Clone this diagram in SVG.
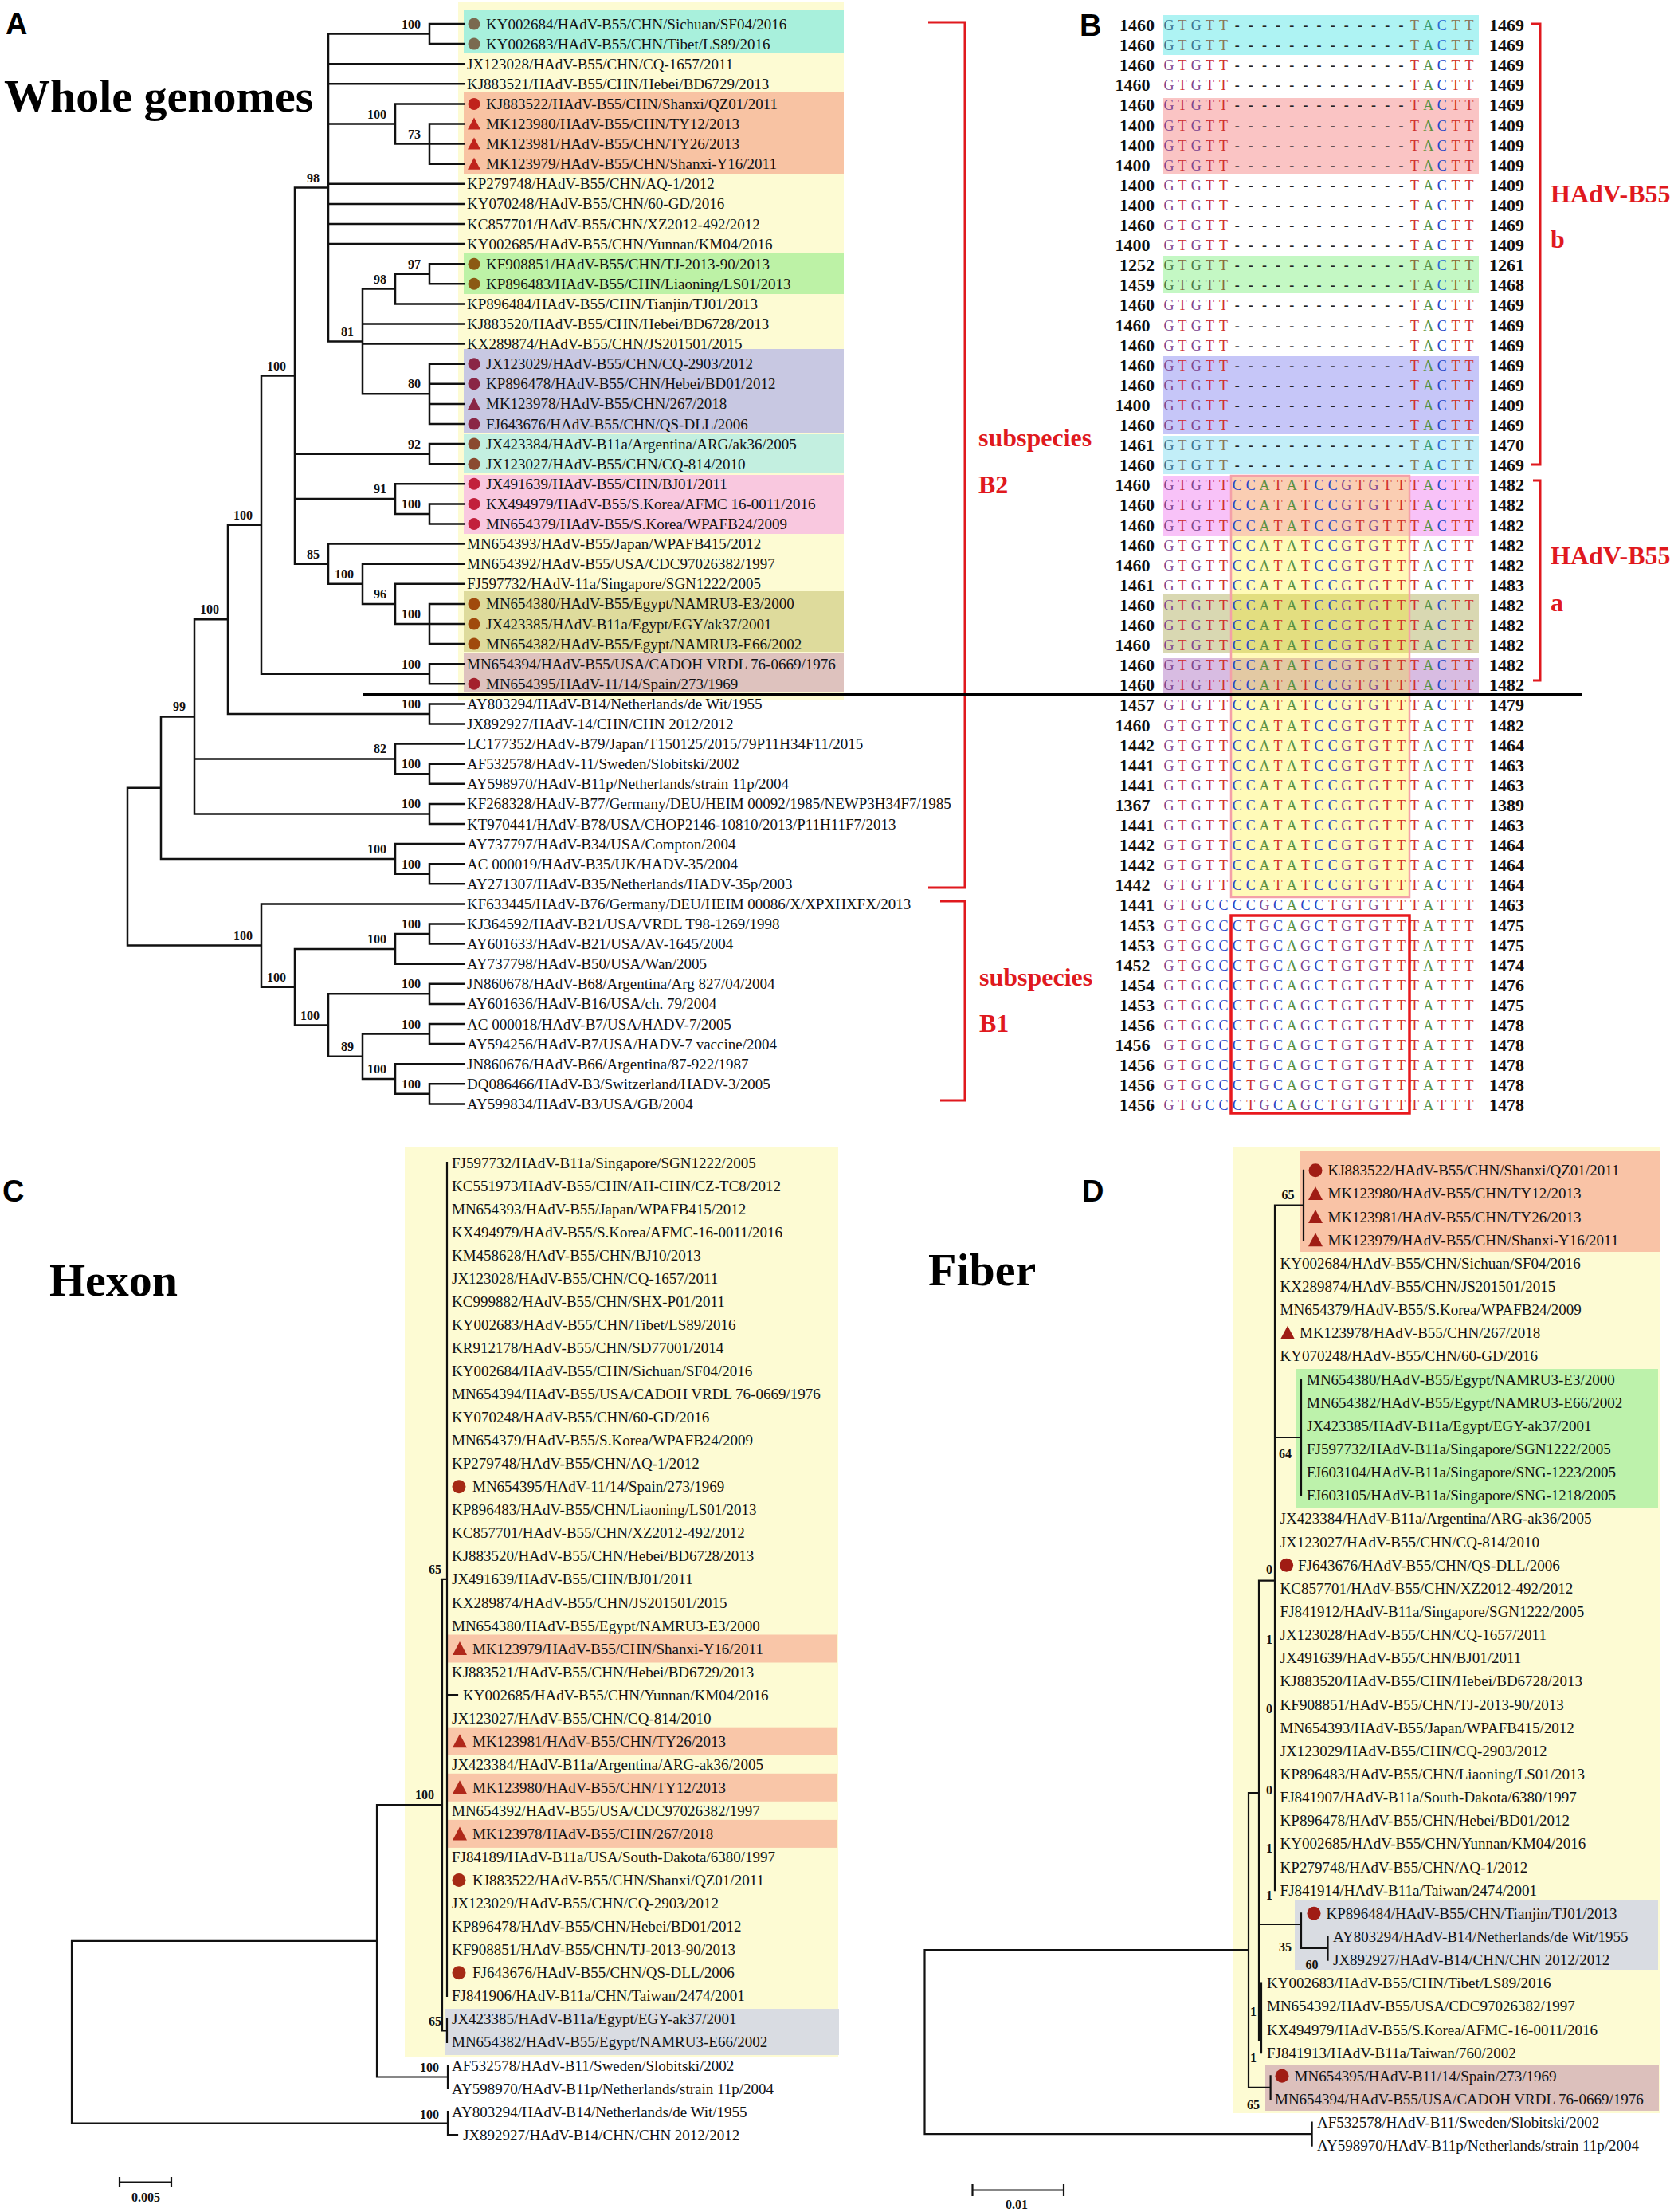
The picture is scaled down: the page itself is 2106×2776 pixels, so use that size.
<svg xmlns="http://www.w3.org/2000/svg" xmlns:xlink="http://www.w3.org/1999/xlink" width="2106" height="2776" viewBox="0 0 2106 2776">
<style>
.lb{font-family:"Liberation Serif","Times New Roman",serif;font-size:19px;fill:#111}
.bs{font-family:"Liberation Serif","Times New Roman",serif;font-size:16px;font-weight:bold;fill:#111}
.bsm{font-family:"Liberation Serif","Times New Roman",serif;font-size:16px;font-weight:bold;fill:#111;text-anchor:middle}
.tr{fill:none;stroke:#111;stroke-width:2.5;stroke-linecap:square}
.trc{fill:none;stroke:#111;stroke-width:2.2;stroke-linecap:square}
.rd{font-family:"Liberation Serif","Times New Roman",serif;font-size:32px;font-weight:bold;fill:#e0191e}
.br{fill:none;stroke:#e0191e;stroke-width:3}
.pl{font-family:"Liberation Sans",Arial,sans-serif;font-size:38px;font-weight:bold;fill:#000}
.ttl{font-family:"Liberation Serif","Times New Roman",serif;font-size:58px;font-weight:bold;fill:#000}
.num{font-family:"Liberation Serif","Times New Roman",serif;font-size:22px;font-weight:bold;fill:#111}
.sq{font-family:"Liberation Serif","Times New Roman",serif;font-size:18px;text-anchor:middle}
.G{fill:#7e4690}.T{fill:#d0302c}.C{fill:#2646c8}.A{fill:#5a9040}.dh{fill:#222;font-weight:bold}
.Gc{fill:#3b7593}.Tc{fill:#8a7658}.Ac{fill:#3c9a6a}.Cc{fill:#2b6ad4}
.Gg{fill:#4a7a4a}.Tg{fill:#8a6a3a}
.yb{fill:#fdfbd3}
</style>
<defs>
<g id="sD">
<text class="sq G" x="1467 1501.3">GG</text>
<text class="sq T" x="1484.1 1518.4 1535.6 1775.5 1826.9 1844.1">TTTTTT</text>
<text class="sq A" x="1792.7">A</text>
<text class="sq C" x="1809.8">C</text>
<text class="sq dh" x="1552.7 1569.8 1587 1604.1 1621.3 1638.4 1655.5 1672.7 1689.8 1707 1724.1 1741.2 1758.4">-------------</text>
</g>
<g id="sDc">
<text class="sq Gc" x="1467 1501.3">GG</text>
<text class="sq Tc" x="1484.1 1518.4 1535.6 1775.5 1826.9 1844.1">TTTTTT</text>
<text class="sq Ac" x="1792.7">A</text>
<text class="sq Cc" x="1809.8">C</text>
<text class="sq dh" x="1552.7 1569.8 1587 1604.1 1621.3 1638.4 1655.5 1672.7 1689.8 1707 1724.1 1741.2 1758.4">-------------</text>
</g>
<g id="sDg">
<text class="sq Gg" x="1467 1501.3">GG</text>
<text class="sq Tg" x="1484.1 1518.4 1535.6 1775.5 1826.9 1844.1">TTTTTT</text>
<text class="sq A" x="1792.7">A</text>
<text class="sq Cc" x="1809.8">C</text>
<text class="sq dh" x="1552.7 1569.8 1587 1604.1 1621.3 1638.4 1655.5 1672.7 1689.8 1707 1724.1 1741.2 1758.4">-------------</text>
</g>
<g id="sL">
<text class="sq G" x="1467 1501.3 1689.8 1724.1">GGGG</text>
<text class="sq T" x="1484.1 1518.4 1535.6 1604.1 1638.4 1707 1741.2 1758.4 1775.5 1826.9 1844.1">TTTTTTTTTTT</text>
<text class="sq C" x="1552.7 1569.8 1655.5 1672.7 1809.8">CCCCC</text>
<text class="sq A" x="1587 1621.3 1792.7">AAA</text>
</g>
<g id="sK">
<text class="sq G" x="1467 1501.3 1587 1689.8 1724.1">GGGGG</text>
<text class="sq T" x="1484.1 1672.7 1707 1741.2 1758.4 1775.5 1809.8 1826.9 1844.1">TTTTTTTTT</text>
<text class="sq C" x="1518.4 1535.6 1552.7 1569.8 1604.1 1638.4 1655.5">CCCCCCC</text>
<text class="sq A" x="1621.3 1792.7">AA</text>
</g>
<g id="sM">
<text class="sq G" x="1467 1501.3 1587 1638.4 1689.8 1724.1">GGGGGG</text>
<text class="sq T" x="1484.1 1569.8 1672.7 1707 1741.2 1758.4 1775.5 1809.8 1826.9 1844.1">TTTTTTTTTT</text>
<text class="sq C" x="1518.4 1535.6 1552.7 1604.1 1655.5">CCCCC</text>
<text class="sq A" x="1621.3 1792.7">AA</text>
</g>
</defs>
<rect width="2106" height="2776" fill="#fff"/>

<!-- ================= PANEL A ================= -->
<g id="panelA">
<text class="pl" x="7" y="43">A</text>
<text class="ttl" x="5" y="140">Whole genomes</text>
<g id="A-boxes">
<rect class="yb" x="575" y="3" width="484" height="875"/>
<rect x="582" y="12" width="477" height="55" fill="#a8f0dc"/>
<rect x="582" y="116" width="477" height="102" fill="#f8c3a3"/>
<rect x="582" y="317" width="477" height="52" fill="#bdf2a6"/>
<rect x="582" y="438" width="477" height="106" fill="#c8c8e2"/>
<rect x="582" y="545" width="477" height="49" fill="#c3efe0"/>
<rect x="582" y="596" width="477" height="74" fill="#f9c8df"/>
<rect x="582" y="742" width="477" height="76" fill="#dedb9c"/>
<rect x="582" y="819" width="477" height="50" fill="#dec2be"/>
</g>
<g id="A-connectors">
<path class="tr" d="M539,30V55.1M539,30H582M539,55.1H582M412,42.55H539M412,80.2H582M412,105.3H582
M496,130.4V180.6M496,130.4H582M412,155.5H496M539,155.5V205.7M539,155.5H582M539,180.6H582M539,205.7H582M496,180.6H539
M412,230.8H582M412,255.9H582M412,281H582M412,306.1H582
M539,331.2V356.3M539,331.2H582M539,356.3H582M496,343.75H539M496,343.75V381.4M496,381.4H582M455,362.6H496
M455,406.5H582M455,431.6H582
M539,456.7V532M539,456.7H582M539,481.8H582M539,506.9H582M539,532H582M455,494.35H539
M455,362.6V494.35M412,428.5H455M412,42.55V428.5M370,235.5H412
M539,557.1V582.2M539,557.1H582M539,582.2H582M370,569.65H539
M539,632.4V657.5M539,632.4H582M539,657.5H582M496,644.95H539M496,607.3V644.95M496,607.3H582M370,626.1H496
M539,757.9V808.1M539,757.9H582M539,783H582M539,808.1H582M496,783H539M496,732.8V783M496,732.8H582M455,757.9H496M455,707.7V757.9M455,707.7H582M412,732.8H455M412,682.6V732.8M412,682.6H582M370,707.7H412
M370,235.5V707.7M328,471.6H370
M539,833.2V858.3M539,833.2H582M539,858.3H582M328,845.75H539M328,471.6V845.75M286,658.7H328
M539,883.4V908.5M539,883.4H582M539,908.5H582M286,895.95H539M286,658.7V895.95M244,777.3H286
M539,958.7V983.8M539,958.7H582M539,983.8H582M496,971.25H539M496,933.6V971.25M496,933.6H582M244,952.4H496
M539,1008.9V1034M539,1008.9H582M539,1034H582M244,1021.45H539M244,777.3V1021.45M202,899.4H244
M539,1084.2V1109.3M539,1084.2H582M539,1109.3H582M496,1096.75H539M496,1059.1V1096.75M496,1059.1H582M202,1077.9H496
M202,899.4V1077.9M160,988.65H202M160,988.65V1186.6
M160,1186.6H328M328,1134.4V1238.75M328,1134.4H582M328,1238.75H370
M370,1190.9V1286.6M370,1190.9H496M370,1286.6H412
M496,1172.05V1209.7M496,1172.05H539M496,1209.7H582M539,1159.5V1184.6M539,1159.5H582M539,1184.6H582
M412,1247.35V1325.8M412,1247.35H539M412,1325.8H455M539,1234.8V1259.9M539,1234.8H582M539,1259.9H582
M455,1297.55V1354M455,1297.55H539M455,1354H496M539,1285V1310.1M539,1285H582M539,1310.1H582
M496,1335.2V1372.85M496,1335.2H582M496,1372.85H539M539,1360.3V1385.4M539,1360.3H582M539,1385.4H582"/>
</g>
<g id="A-bootstrap" class="bs" text-anchor="end">
<text x="528" y="35.5">100</text><text x="485" y="148.5">100</text><text x="528" y="173.6">73</text>
<text x="401" y="228.5">98</text><text x="528" y="336.75">97</text><text x="485" y="355.6">98</text>
<text x="444" y="421.5">81</text><text x="528" y="487.35">80</text><text x="528" y="562.65">92</text>
<text x="485" y="619.1">91</text><text x="528" y="637.95">100</text><text x="401" y="700.7">85</text>
<text x="444" y="725.8">100</text><text x="485" y="750.9">96</text><text x="528" y="776">100</text>
<text x="359" y="464.6">100</text><text x="528" y="838.75">100</text><text x="317" y="651.7">100</text>
<text x="528" y="888.95">100</text><text x="275" y="770.3">100</text><text x="485" y="945.4">82</text>
<text x="528" y="964.25">100</text><text x="528" y="1014.45">100</text><text x="233" y="892.4">99</text>
<text x="485" y="1070.9">100</text><text x="528" y="1089.75">100</text><text x="317" y="1179.6">100</text>
<text x="359" y="1231.75">100</text><text x="485" y="1183.9">100</text><text x="528" y="1165.05">100</text>
<text x="401" y="1279.6">100</text><text x="528" y="1240.35">100</text><text x="444" y="1318.8">89</text>
<text x="528" y="1290.55">100</text><text x="485" y="1347">100</text><text x="528" y="1365.85">100</text>
</g>
<g id="A-leaves">
<g id="A01"><circle cx="595" cy="30" r="7.5" fill="#7a6a50"/><text class="lb" x="610" y="36.5">KY002684/HAdV-B55/CHN/Sichuan/SF04/2016</text></g>
<g id="A02"><circle cx="595" cy="55.1" r="7.5" fill="#7a6a50"/><text class="lb" x="610" y="61.6">KY002683/HAdV-B55/CHN/Tibet/LS89/2016</text></g>
<g id="A03"><text class="lb" x="586" y="86.7">JX123028/HAdV-B55/CHN/CQ-1657/2011</text></g>
<g id="A04"><text class="lb" x="586" y="111.8">KJ883521/HAdV-B55/CHN/Hebei/BD6729/2013</text></g>
<g id="A05"><circle cx="595" cy="130.4" r="7.5" fill="#c0231c"/><text class="lb" x="610" y="136.9">KJ883522/HAdV-B55/CHN/Shanxi/QZ01/2011</text></g>
<g id="A06"><path d="M595,147.5L603,162.5L587,162.5Z" fill="#c0231c"/><text class="lb" x="610" y="162">MK123980/HAdV-B55/CHN/TY12/2013</text></g>
<g id="A07"><path d="M595,172.6L603,187.6L587,187.6Z" fill="#c0231c"/><text class="lb" x="610" y="187.1">MK123981/HAdV-B55/CHN/TY26/2013</text></g>
<g id="A08"><path d="M595,197.7L603,212.7L587,212.7Z" fill="#c0231c"/><text class="lb" x="610" y="212.2">MK123979/HAdV-B55/CHN/Shanxi-Y16/2011</text></g>
<g id="A09"><text class="lb" x="586" y="237.3">KP279748/HAdV-B55/CHN/AQ-1/2012</text></g>
<g id="A10"><text class="lb" x="586" y="262.4">KY070248/HAdV-B55/CHN/60-GD/2016</text></g>
<g id="A11"><text class="lb" x="586" y="287.5">KC857701/HAdV-B55/CHN/XZ2012-492/2012</text></g>
<g id="A12"><text class="lb" x="586" y="312.6">KY002685/HAdV-B55/CHN/Yunnan/KM04/2016</text></g>
<g id="A13"><circle cx="595" cy="331.2" r="7.5" fill="#8b5a14"/><text class="lb" x="610" y="337.7">KF908851/HAdV-B55/CHN/TJ-2013-90/2013</text></g>
<g id="A14"><circle cx="595" cy="356.3" r="7.5" fill="#8b5a14"/><text class="lb" x="610" y="362.8">KP896483/HAdV-B55/CHN/Liaoning/LS01/2013</text></g>
<g id="A15"><text class="lb" x="586" y="387.9">KP896484/HAdV-B55/CHN/Tianjin/TJ01/2013</text></g>
<g id="A16"><text class="lb" x="586" y="413">KJ883520/HAdV-B55/CHN/Hebei/BD6728/2013</text></g>
<g id="A17"><text class="lb" x="586" y="438.1">KX289874/HAdV-B55/CHN/JS201501/2015</text></g>
<g id="A18"><circle cx="595" cy="456.7" r="7.5" fill="#8a2646"/><text class="lb" x="610" y="463.2">JX123029/HAdV-B55/CHN/CQ-2903/2012</text></g>
<g id="A19"><circle cx="595" cy="481.8" r="7.5" fill="#8a2646"/><text class="lb" x="610" y="488.3">KP896478/HAdV-B55/CHN/Hebei/BD01/2012</text></g>
<g id="A20"><path d="M595,498.9L603,513.9L587,513.9Z" fill="#8a2646"/><text class="lb" x="610" y="513.4">MK123978/HAdV-B55/CHN/267/2018</text></g>
<g id="A21"><circle cx="595" cy="532" r="7.5" fill="#8a2646"/><text class="lb" x="610" y="538.5">FJ643676/HAdV-B55/CHN/QS-DLL/2006</text></g>
<g id="A22"><circle cx="595" cy="557.1" r="7.5" fill="#8a4a30"/><text class="lb" x="610" y="563.6">JX423384/HAdV-B11a/Argentina/ARG/ak36/2005</text></g>
<g id="A23"><circle cx="595" cy="582.2" r="7.5" fill="#8a4a30"/><text class="lb" x="610" y="588.7">JX123027/HAdV-B55/CHN/CQ-814/2010</text></g>
<g id="A24"><circle cx="595" cy="607.3" r="7.5" fill="#c2203c"/><text class="lb" x="610" y="613.8">JX491639/HAdV-B55/CHN/BJ01/2011</text></g>
<g id="A25"><circle cx="595" cy="632.4" r="7.5" fill="#c2203c"/><text class="lb" x="610" y="638.9">KX494979/HAdV-B55/S.Korea/AFMC 16-0011/2016</text></g>
<g id="A26"><circle cx="595" cy="657.5" r="7.5" fill="#c2203c"/><text class="lb" x="610" y="664">MN654379/HAdV-B55/S.Korea/WPAFB24/2009</text></g>
<g id="A27"><text class="lb" x="586" y="689.1">MN654393/HAdV-B55/Japan/WPAFB415/2012</text></g>
<g id="A28"><text class="lb" x="586" y="714.2">MN654392/HAdV-B55/USA/CDC97026382/1997</text></g>
<g id="A29"><text class="lb" x="586" y="739.3">FJ597732/HAdV-11a/Singapore/SGN1222/2005</text></g>
<g id="A30"><circle cx="595" cy="757.9" r="7.5" fill="#a04a0c"/><text class="lb" x="610" y="764.4">MN654380/HAdV-B55/Egypt/NAMRU3-E3/2000</text></g>
<g id="A31"><circle cx="595" cy="783" r="7.5" fill="#a04a0c"/><text class="lb" x="610" y="789.5">JX423385/HAdV-B11a/Egypt/EGY/ak37/2001</text></g>
<g id="A32"><circle cx="595" cy="808.1" r="7.5" fill="#a04a0c"/><text class="lb" x="610" y="814.6">MN654382/HAdV-B55/Egypt/NAMRU3-E66/2002</text></g>
<g id="A33"><text class="lb" x="586" y="839.7">MN654394/HAdV-B55/USA/CADOH VRDL 76-0669/1976</text></g>
<g id="A34"><circle cx="595" cy="858.3" r="7.5" fill="#a4202c"/><text class="lb" x="610" y="864.8">MN654395/HAdV-11/14/Spain/273/1969</text></g>
<g id="A35"><text class="lb" x="586" y="889.9">AY803294/HAdV-B14/Netherlands/de Wit/1955</text></g>
<g id="A36"><text class="lb" x="586" y="915">JX892927/HAdV-14/CHN/CHN 2012/2012</text></g>
<g id="A37"><text class="lb" x="586" y="940.1">LC177352/HAdV-B79/Japan/T150125/2015/79P11H34F11/2015</text></g>
<g id="A38"><text class="lb" x="586" y="965.2">AF532578/HAdV-11/Sweden/Slobitski/2002</text></g>
<g id="A39"><text class="lb" x="586" y="990.3">AY598970/HAdV-B11p/Netherlands/strain 11p/2004</text></g>
<g id="A40"><text class="lb" x="586" y="1015.4">KF268328/HAdV-B77/Germany/DEU/HEIM 00092/1985/NEWP3H34F7/1985</text></g>
<g id="A41"><text class="lb" x="586" y="1040.5">KT970441/HAdV-B78/USA/CHOP2146-10810/2013/P11H11F7/2013</text></g>
<g id="A42"><text class="lb" x="586" y="1065.6">AY737797/HAdV-B34/USA/Compton/2004</text></g>
<g id="A43"><text class="lb" x="586" y="1090.7">AC 000019/HAdV-B35/UK/HADV-35/2004</text></g>
<g id="A44"><text class="lb" x="586" y="1115.8">AY271307/HAdV-B35/Netherlands/HADV-35p/2003</text></g>
<g id="A45"><text class="lb" x="586" y="1140.9">KF633445/HAdV-B76/Germany/DEU/HEIM 00086/X/XPXHXFX/2013</text></g>
<g id="A46"><text class="lb" x="586" y="1166">KJ364592/HAdV-B21/USA/VRDL T98-1269/1998</text></g>
<g id="A47"><text class="lb" x="586" y="1191.1">AY601633/HAdV-B21/USA/AV-1645/2004</text></g>
<g id="A48"><text class="lb" x="586" y="1216.2">AY737798/HAdV-B50/USA/Wan/2005</text></g>
<g id="A49"><text class="lb" x="586" y="1241.3">JN860678/HAdV-B68/Argentina/Arg 827/04/2004</text></g>
<g id="A50"><text class="lb" x="586" y="1266.4">AY601636/HAdV-B16/USA/ch. 79/2004</text></g>
<g id="A51"><text class="lb" x="586" y="1291.5">AC 000018/HAdV-B7/USA/HADV-7/2005</text></g>
<g id="A52"><text class="lb" x="586" y="1316.6">AY594256/HAdV-B7/USA/HADV-7 vaccine/2004</text></g>
<g id="A53"><text class="lb" x="586" y="1341.7">JN860676/HAdV-B66/Argentina/87-922/1987</text></g>
<g id="A54"><text class="lb" x="586" y="1366.8">DQ086466/HAdV-B3/Switzerland/HADV-3/2005</text></g>
<g id="A55"><text class="lb" x="586" y="1391.9">AY599834/HAdV-B3/USA/GB/2004</text></g>
</g>
<g id="A-brackets">
<path class="br" d="M1165,28H1211V1114H1165"/>
<path class="br" d="M1180,1131H1211V1381H1180"/>
<text class="rd" x="1228" y="560">subspecies</text>
<text class="rd" x="1228" y="619">B2</text>
<text class="rd" x="1229" y="1237">subspecies</text>
<text class="rd" x="1229" y="1295">B1</text>
</g>
</g>

<!-- ================= PANEL B ================= -->
<g id="panelB">
<text class="pl" x="1355" y="45">B</text>
<g id="B-boxes">
<rect x="1460" y="19" width="396" height="50" fill="#aef3f3"/>
<rect x="1460" y="123" width="396" height="95" fill="#fac4c4"/>
<rect x="1460" y="321" width="396" height="47" fill="#c4f8c4"/>
<rect x="1460" y="447" width="396" height="98" fill="#c6c6f8"/>
<rect x="1460" y="547" width="396" height="48" fill="#c2eef8"/>
<rect x="1460" y="597" width="396" height="76" fill="#f8c2f8"/>
<rect x="1460" y="746" width="396" height="74" fill="#d9d8b2"/>
<rect x="1460" y="826" width="396" height="44" fill="#d8bce2"/>
<rect x="1545" y="597" width="224" height="529" fill="#ffee00" fill-opacity="0.28" stroke="#f4a0a8" stroke-width="2.5"/>
</g>
<g id="B-seqs">
<use xlink:href="#sDc" y="38"/><use xlink:href="#sDc" y="63.1"/><use xlink:href="#sD" y="88.2"/><use xlink:href="#sD" y="113.3"/>
<use xlink:href="#sD" y="138.4"/><use xlink:href="#sD" y="163.5"/><use xlink:href="#sD" y="188.6"/><use xlink:href="#sD" y="213.7"/>
<use xlink:href="#sD" y="238.8"/><use xlink:href="#sD" y="263.9"/><use xlink:href="#sD" y="289"/><use xlink:href="#sD" y="314.1"/>
<use xlink:href="#sDg" y="339.2"/><use xlink:href="#sDg" y="364.3"/><use xlink:href="#sD" y="389.4"/><use xlink:href="#sD" y="414.5"/>
<use xlink:href="#sD" y="439.6"/><use xlink:href="#sD" y="464.7"/><use xlink:href="#sD" y="489.8"/><use xlink:href="#sD" y="514.9"/>
<use xlink:href="#sD" y="540"/><use xlink:href="#sDc" y="565.1"/><use xlink:href="#sDc" y="590.2"/>
<use xlink:href="#sL" y="615.3"/><use xlink:href="#sL" y="640.4"/><use xlink:href="#sL" y="665.5"/><use xlink:href="#sL" y="690.6"/>
<use xlink:href="#sL" y="715.7"/><use xlink:href="#sL" y="740.8"/><use xlink:href="#sL" y="765.9"/><use xlink:href="#sL" y="791"/>
<use xlink:href="#sL" y="816.1"/><use xlink:href="#sL" y="841.2"/><use xlink:href="#sL" y="866.3"/><use xlink:href="#sL" y="891.4"/>
<use xlink:href="#sL" y="916.5"/><use xlink:href="#sL" y="941.6"/><use xlink:href="#sL" y="966.7"/><use xlink:href="#sL" y="991.8"/>
<use xlink:href="#sL" y="1016.9"/><use xlink:href="#sL" y="1042"/><use xlink:href="#sL" y="1067.1"/><use xlink:href="#sL" y="1092.2"/>
<use xlink:href="#sL" y="1117.3"/>
<use xlink:href="#sK" y="1142.4"/>
<use xlink:href="#sM" y="1167.5"/><use xlink:href="#sM" y="1192.6"/><use xlink:href="#sM" y="1217.7"/><use xlink:href="#sM" y="1242.8"/>
<use xlink:href="#sM" y="1267.9"/><use xlink:href="#sM" y="1293"/><use xlink:href="#sM" y="1318.1"/><use xlink:href="#sM" y="1343.2"/>
<use xlink:href="#sM" y="1368.3"/><use xlink:href="#sM" y="1393.4"/>
</g>
<rect x="1545" y="1149" width="224" height="248" fill="none" stroke="#e8191e" stroke-width="3.5"/>
<text class="num" text-anchor="end">
<tspan x="1449" y="39">1460</tspan><tspan x="1449" y="64.1">1460</tspan><tspan x="1449" y="89.2">1460</tspan><tspan x="1449" y="114.3">1460</tspan>
<tspan x="1449" y="139.4">1460</tspan><tspan x="1449" y="164.5">1400</tspan><tspan x="1449" y="189.6">1400</tspan><tspan x="1449" y="214.7">1400</tspan>
<tspan x="1449" y="239.8">1400</tspan><tspan x="1449" y="264.9">1400</tspan><tspan x="1449" y="290">1460</tspan><tspan x="1449" y="315.1">1400</tspan>
<tspan x="1449" y="340.2">1252</tspan><tspan x="1449" y="365.3">1459</tspan><tspan x="1449" y="390.4">1460</tspan><tspan x="1449" y="415.5">1460</tspan>
<tspan x="1449" y="440.6">1460</tspan><tspan x="1449" y="465.7">1460</tspan><tspan x="1449" y="490.8">1460</tspan><tspan x="1449" y="515.9">1400</tspan>
<tspan x="1449" y="541">1460</tspan><tspan x="1449" y="566.1">1461</tspan><tspan x="1449" y="591.2">1460</tspan><tspan x="1449" y="616.3">1460</tspan>
<tspan x="1449" y="641.4">1460</tspan><tspan x="1449" y="666.5">1460</tspan><tspan x="1449" y="691.6">1460</tspan><tspan x="1449" y="716.7">1460</tspan>
<tspan x="1449" y="741.8">1461</tspan><tspan x="1449" y="766.9">1460</tspan><tspan x="1449" y="792">1460</tspan><tspan x="1449" y="817.1">1460</tspan>
<tspan x="1449" y="842.2">1460</tspan><tspan x="1449" y="867.3">1460</tspan><tspan x="1449" y="892.4">1457</tspan><tspan x="1449" y="917.5">1460</tspan>
<tspan x="1449" y="942.6">1442</tspan><tspan x="1449" y="967.7">1441</tspan><tspan x="1449" y="992.8">1441</tspan><tspan x="1449" y="1017.9">1367</tspan>
<tspan x="1449" y="1043">1441</tspan><tspan x="1449" y="1068.1">1442</tspan><tspan x="1449" y="1093.2">1442</tspan><tspan x="1449" y="1118.3">1442</tspan>
<tspan x="1449" y="1143.4">1441</tspan><tspan x="1449" y="1168.5">1453</tspan><tspan x="1449" y="1193.6">1453</tspan><tspan x="1449" y="1218.7">1452</tspan>
<tspan x="1449" y="1243.8">1454</tspan><tspan x="1449" y="1268.9">1453</tspan><tspan x="1449" y="1294">1456</tspan><tspan x="1449" y="1319.1">1456</tspan>
<tspan x="1449" y="1344.2">1456</tspan><tspan x="1449" y="1369.3">1456</tspan><tspan x="1449" y="1394.4">1456</tspan>
</text>
<text class="num">
<tspan x="1869" y="39">1469</tspan><tspan x="1869" y="64.1">1469</tspan><tspan x="1869" y="89.2">1469</tspan><tspan x="1869" y="114.3">1469</tspan>
<tspan x="1869" y="139.4">1469</tspan><tspan x="1869" y="164.5">1409</tspan><tspan x="1869" y="189.6">1409</tspan><tspan x="1869" y="214.7">1409</tspan>
<tspan x="1869" y="239.8">1409</tspan><tspan x="1869" y="264.9">1409</tspan><tspan x="1869" y="290">1469</tspan><tspan x="1869" y="315.1">1409</tspan>
<tspan x="1869" y="340.2">1261</tspan><tspan x="1869" y="365.3">1468</tspan><tspan x="1869" y="390.4">1469</tspan><tspan x="1869" y="415.5">1469</tspan>
<tspan x="1869" y="440.6">1469</tspan><tspan x="1869" y="465.7">1469</tspan><tspan x="1869" y="490.8">1469</tspan><tspan x="1869" y="515.9">1409</tspan>
<tspan x="1869" y="541">1469</tspan><tspan x="1869" y="566.1">1470</tspan><tspan x="1869" y="591.2">1469</tspan><tspan x="1869" y="616.3">1482</tspan>
<tspan x="1869" y="641.4">1482</tspan><tspan x="1869" y="666.5">1482</tspan><tspan x="1869" y="691.6">1482</tspan><tspan x="1869" y="716.7">1482</tspan>
<tspan x="1869" y="741.8">1483</tspan><tspan x="1869" y="766.9">1482</tspan><tspan x="1869" y="792">1482</tspan><tspan x="1869" y="817.1">1482</tspan>
<tspan x="1869" y="842.2">1482</tspan><tspan x="1869" y="867.3">1482</tspan><tspan x="1869" y="892.4">1479</tspan><tspan x="1869" y="917.5">1482</tspan>
<tspan x="1869" y="942.6">1464</tspan><tspan x="1869" y="967.7">1463</tspan><tspan x="1869" y="992.8">1463</tspan><tspan x="1869" y="1017.9">1389</tspan>
<tspan x="1869" y="1043">1463</tspan><tspan x="1869" y="1068.1">1464</tspan><tspan x="1869" y="1093.2">1464</tspan><tspan x="1869" y="1118.3">1464</tspan>
<tspan x="1869" y="1143.4">1463</tspan><tspan x="1869" y="1168.5">1475</tspan><tspan x="1869" y="1193.6">1475</tspan><tspan x="1869" y="1218.7">1474</tspan>
<tspan x="1869" y="1243.8">1476</tspan><tspan x="1869" y="1268.9">1475</tspan><tspan x="1869" y="1294">1478</tspan><tspan x="1869" y="1319.1">1478</tspan>
<tspan x="1869" y="1344.2">1478</tspan><tspan x="1869" y="1369.3">1478</tspan><tspan x="1869" y="1394.4">1478</tspan>
</text>
<g id="B-brackets">
<path class="br" d="M1921,30H1933V583H1921"/>
<path class="br" d="M1924,603H1933V854H1924"/>
<text class="rd" x="1946" y="254">HAdV-B55</text>
<text class="rd" x="1946" y="311">b</text>
<text class="rd" x="1946" y="708">HAdV-B55</text>
<text class="rd" x="1946" y="767">a</text>
</g>
</g>
<line id="divider" x1="456" y1="872" x2="1985" y2="872" stroke="#000" stroke-width="4"/>

<!-- ================= PANEL C ================= -->
<g id="panelC">
<text class="pl" x="3" y="1508">C</text>
<text class="ttl" x="62" y="1626">Hexon</text>
<g id="C-boxes">
<rect class="yb" x="508" y="1440" width="544" height="1142"/>
<rect x="562" y="2051.5" width="489" height="35" fill="#f9c6a8"/>
<rect x="562" y="2167.7" width="489" height="35" fill="#f9c6a8"/>
<rect x="562" y="2225.8" width="489" height="35" fill="#f9c6a8"/>
<rect x="562" y="2283.9" width="489" height="35" fill="#f9c6a8"/>
<rect x="559" y="2521" width="494" height="58" fill="#d9dce2"/>
</g>
<g id="C-connectors">
<path class="trc" d="M561,1459V2504.8M554,1981.9H561M561,2127.2H574M561,2533.9V2562.9M555,2548.4H561M555,1981.9V2548.4M473,2265.2H555
M562,2592V2621M473,2606.5H562M473,2265.2V2606.5M90,2435.8H473M562,2650V2679.1M90,2664.6H562M562,2679.1H574M90,2435.8V2664.6"/>
</g>
<g id="C-bootstrap" class="bs" text-anchor="end">
<text x="554" y="1975">65</text><text x="545" y="2258">100</text><text x="554" y="2542">65</text>
<text x="551" y="2600">100</text><text x="551" y="2659">100</text>
</g>
<g id="C-leaves">
<g id="C01"><text class="lb" x="567" y="1465.5">FJ597732/HAdV-B11a/Singapore/SGN1222/2005</text></g>
<g id="C02"><text class="lb" x="567" y="1494.6">KC551973/HAdV-B55/CHN/AH-CHN/CZ-TC8/2012</text></g>
<g id="C03"><text class="lb" x="567" y="1523.6">MN654393/HAdV-B55/Japan/WPAFB415/2012</text></g>
<g id="C04"><text class="lb" x="567" y="1552.7">KX494979/HAdV-B55/S.Korea/AFMC-16-0011/2016</text></g>
<g id="C05"><text class="lb" x="567" y="1581.7">KM458628/HAdV-B55/CHN/BJ10/2013</text></g>
<g id="C06"><text class="lb" x="567" y="1610.8">JX123028/HAdV-B55/CHN/CQ-1657/2011</text></g>
<g id="C07"><text class="lb" x="567" y="1639.8">KC999882/HAdV-B55/CHN/SHX-P01/2011</text></g>
<g id="C08"><text class="lb" x="567" y="1668.9">KY002683/HAdV-B55/CHN/Tibet/LS89/2016</text></g>
<g id="C09"><text class="lb" x="567" y="1697.9">KR912178/HAdV-B55/CHN/SD77001/2014</text></g>
<g id="C10"><text class="lb" x="567" y="1727">KY002684/HAdV-B55/CHN/Sichuan/SF04/2016</text></g>
<g id="C11"><text class="lb" x="567" y="1756">MN654394/HAdV-B55/USA/CADOH VRDL 76-0669/1976</text></g>
<g id="C12"><text class="lb" x="567" y="1785.1">KY070248/HAdV-B55/CHN/60-GD/2016</text></g>
<g id="C13"><text class="lb" x="567" y="1814.1">MN654379/HAdV-B55/S.Korea/WPAFB24/2009</text></g>
<g id="C14"><text class="lb" x="567" y="1843.2">KP279748/HAdV-B55/CHN/AQ-1/2012</text></g>
<g id="C15"><circle cx="576" cy="1865.7" r="8.5" fill="#a52a14"/><text class="lb" x="593" y="1872.2">MN654395/HAdV-11/14/Spain/273/1969</text></g>
<g id="C16"><text class="lb" x="567" y="1901.3">KP896483/HAdV-B55/CHN/Liaoning/LS01/2013</text></g>
<g id="C17"><text class="lb" x="567" y="1930.3">KC857701/HAdV-B55/CHN/XZ2012-492/2012</text></g>
<g id="C18"><text class="lb" x="567" y="1959.4">KJ883520/HAdV-B55/CHN/Hebei/BD6728/2013</text></g>
<g id="C19"><text class="lb" x="567" y="1988.4">JX491639/HAdV-B55/CHN/BJ01/2011</text></g>
<g id="C20"><text class="lb" x="567" y="2017.5">KX289874/HAdV-B55/CHN/JS201501/2015</text></g>
<g id="C21"><text class="lb" x="567" y="2046.5">MN654380/HAdV-B55/Egypt/NAMRU3-E3/2000</text></g>
<g id="C22"><path d="M577,2060L586,2077L568,2077Z" fill="#b0281a"/><text class="lb" x="593" y="2075.6">MK123979/HAdV-B55/CHN/Shanxi-Y16/2011</text></g>
<g id="C23"><text class="lb" x="567" y="2104.6">KJ883521/HAdV-B55/CHN/Hebei/BD6729/2013</text></g>
<g id="C24"><text class="lb" x="581" y="2133.7">KY002685/HAdV-B55/CHN/Yunnan/KM04/2016</text></g>
<g id="C25"><text class="lb" x="567" y="2162.7">JX123027/HAdV-B55/CHN/CQ-814/2010</text></g>
<g id="C26"><path d="M577,2176.2L586,2193.2L568,2193.2Z" fill="#b0281a"/><text class="lb" x="593" y="2191.8">MK123981/HAdV-B55/CHN/TY26/2013</text></g>
<g id="C27"><text class="lb" x="567" y="2220.8">JX423384/HAdV-B11a/Argentina/ARG-ak36/2005</text></g>
<g id="C28"><path d="M577,2234.3L586,2251.3L568,2251.3Z" fill="#b0281a"/><text class="lb" x="593" y="2249.9">MK123980/HAdV-B55/CHN/TY12/2013</text></g>
<g id="C29"><text class="lb" x="567" y="2278.9">MN654392/HAdV-B55/USA/CDC97026382/1997</text></g>
<g id="C30"><path d="M577,2292.4L586,2309.4L568,2309.4Z" fill="#b0281a"/><text class="lb" x="593" y="2308">MK123978/HAdV-B55/CHN/267/2018</text></g>
<g id="C31"><text class="lb" x="567" y="2337">FJ84189/HAdV-B11a/USA/South-Dakota/6380/1997</text></g>
<g id="C32"><circle cx="576" cy="2359.6" r="8.5" fill="#a52a14"/><text class="lb" x="593" y="2366.1">KJ883522/HAdV-B55/CHN/Shanxi/QZ01/2011</text></g>
<g id="C33"><text class="lb" x="567" y="2395.1">JX123029/HAdV-B55/CHN/CQ-2903/2012</text></g>
<g id="C34"><text class="lb" x="567" y="2424.2">KP896478/HAdV-B55/CHN/Hebei/BD01/2012</text></g>
<g id="C35"><text class="lb" x="567" y="2453.2">KF908851/HAdV-B55/CHN/TJ-2013-90/2013</text></g>
<g id="C36"><circle cx="576" cy="2475.8" r="8.5" fill="#a52a14"/><text class="lb" x="593" y="2482.3">FJ643676/HAdV-B55/CHN/QS-DLL/2006</text></g>
<g id="C37"><text class="lb" x="567" y="2511.3">FJ841906/HAdV-B11a/CHN/Taiwan/2474/2001</text></g>
<g id="C38"><text class="lb" x="567" y="2540.4">JX423385/HAdV-B11a/Egypt/EGY-ak37/2001</text></g>
<g id="C39"><text class="lb" x="567" y="2569.4">MN654382/HAdV-B55/Egypt/NAMRU3-E66/2002</text></g>
<g id="C40"><text class="lb" x="567" y="2598.5">AF532578/HAdV-B11/Sweden/Slobitski/2002</text></g>
<g id="C41"><text class="lb" x="567" y="2627.5">AY598970/HAdV-B11p/Netherlands/strain 11p/2004</text></g>
<g id="C42"><text class="lb" x="567" y="2656.6">AY803294/HAdV-B14/Netherlands/de Wit/1955</text></g>
<g id="C43"><text class="lb" x="581" y="2685.6">JX892927/HAdV-B14/CHN/CHN 2012/2012</text></g>
</g>
<g id="C-scale">
<path class="trc" d="M150,2738.7H215M150,2733V2744M215,2733V2744"/>
<text class="bsm" x="183" y="2763">0.005</text>
</g>
</g>

<!-- ================= PANEL D ================= -->
<g id="panelD">
<text class="pl" x="1358" y="1508">D</text>
<text class="ttl" x="1165" y="1613">Fiber</text>
<g id="D-boxes">
<rect class="yb" x="1547" y="1439" width="537" height="1213"/>
<rect x="1631" y="1444" width="453" height="127" fill="#f9c3a6"/>
<rect x="1627" y="1718" width="454" height="174" fill="#bdf2ab"/>
<rect x="1625" y="2384" width="456" height="88" fill="#d9dce2"/>
<rect x="1588" y="2592" width="494" height="57" fill="#dcc0bc"/>
</g>
<g id="D-connectors">
<path class="trc" d="M1636,1468.8V1556.2M1600,1512.5H1636M1600,1512.5V2372.1M1633,1731.1V1876.8M1600,1804H1633M1580,1983.6H1600M1580,1983.6V2560
M1633,2401.3V2445M1580,2415H1633M1666.5,2430.4V2459.6M1633,2445H1666.5M1583,2488.7V2576.1M1580,2560H1583
M1567,2250V2619.9M1567,2250H1580M1594.6,2605.3V2634.4M1567,2619.9H1594.6M1160.5,2447V2678.1M1160.5,2447H1567M1646.6,2663.5V2692.7M1160.5,2678.1H1646.6"/>
</g>
<g id="D-bootstrap" class="bsm">
<text x="1616.6" y="1505">65</text><text x="1613" y="1830">64</text>
<text x="1593" y="1975">0</text><text x="1593" y="2063">1</text><text x="1593" y="2150">0</text>
<text x="1593" y="2252">0</text><text x="1593" y="2325">1</text><text x="1593" y="2384">1</text>
<text x="1613" y="2449">35</text><text x="1646.6" y="2471">60</text>
<text x="1573" y="2530">1</text><text x="1573" y="2588">1</text><text x="1573" y="2647">65</text>
</g>
<g id="D-leaves">
<g id="D01"><circle cx="1651" cy="1468.8" r="8.5" fill="#a01c14"/><text class="lb" x="1666.5" y="1475.3">KJ883522/HAdV-B55/CHN/Shanxi/QZ01/2011</text></g>
<g id="D02"><path d="M1651,1488.9L1660,1505.9L1642,1505.9Z" fill="#a01c14"/><text class="lb" x="1666.5" y="1504.4">MK123980/HAdV-B55/CHN/TY12/2013</text></g>
<g id="D03"><path d="M1651,1518.1L1660,1535.1L1642,1535.1Z" fill="#a01c14"/><text class="lb" x="1666.5" y="1533.6">MK123981/HAdV-B55/CHN/TY26/2013</text></g>
<g id="D04"><path d="M1651,1547.2L1660,1564.2L1642,1564.2Z" fill="#a01c14"/><text class="lb" x="1666.5" y="1562.7">MK123979/HAdV-B55/CHN/Shanxi-Y16/2011</text></g>
<g id="D05"><text class="lb" x="1606.6" y="1591.9">KY002684/HAdV-B55/CHN/Sichuan/SF04/2016</text></g>
<g id="D06"><text class="lb" x="1606.6" y="1621">KX289874/HAdV-B55/CHN/JS201501/2015</text></g>
<g id="D07"><text class="lb" x="1606.6" y="1650.1">MN654379/HAdV-B55/S.Korea/WPAFB24/2009</text></g>
<g id="D08"><path d="M1616,1663.8L1625,1680.8L1607,1680.8Z" fill="#a01c14"/><text class="lb" x="1631" y="1679.3">MK123978/HAdV-B55/CHN/267/2018</text></g>
<g id="D09"><text class="lb" x="1606.6" y="1708.4">KY070248/HAdV-B55/CHN/60-GD/2016</text></g>
<g id="D10"><text class="lb" x="1640" y="1737.6">MN654380/HAdV-B55/Egypt/NAMRU3-E3/2000</text></g>
<g id="D11"><text class="lb" x="1640" y="1766.7">MN654382/HAdV-B55/Egypt/NAMRU3-E66/2002</text></g>
<g id="D12"><text class="lb" x="1640" y="1795.8">JX423385/HAdV-B11a/Egypt/EGY-ak37/2001</text></g>
<g id="D13"><text class="lb" x="1640" y="1825">FJ597732/HAdV-B11a/Singapore/SGN1222/2005</text></g>
<g id="D14"><text class="lb" x="1640" y="1854.1">FJ603104/HAdV-B11a/Singapore/SNG-1223/2005</text></g>
<g id="D15"><text class="lb" x="1640" y="1883.3">FJ603105/HAdV-B11a/Singapore/SNG-1218/2005</text></g>
<g id="D16"><text class="lb" x="1606.6" y="1912.4">JX423384/HAdV-B11a/Argentina/ARG-ak36/2005</text></g>
<g id="D17"><text class="lb" x="1606.6" y="1941.5">JX123027/HAdV-B55/CHN/CQ-814/2010</text></g>
<g id="D18"><circle cx="1614.6" cy="1964.2" r="8.5" fill="#a01c14"/><text class="lb" x="1629" y="1970.7">FJ643676/HAdV-B55/CHN/QS-DLL/2006</text></g>
<g id="D19"><text class="lb" x="1606.6" y="1999.8">KC857701/HAdV-B55/CHN/XZ2012-492/2012</text></g>
<g id="D20"><text class="lb" x="1606.6" y="2029">FJ841912/HAdV-B11a/Singapore/SGN1222/2005</text></g>
<g id="D21"><text class="lb" x="1606.6" y="2058.1">JX123028/HAdV-B55/CHN/CQ-1657/2011</text></g>
<g id="D22"><text class="lb" x="1606.6" y="2087.2">JX491639/HAdV-B55/CHN/BJ01/2011</text></g>
<g id="D23"><text class="lb" x="1606.6" y="2116.4">KJ883520/HAdV-B55/CHN/Hebei/BD6728/2013</text></g>
<g id="D24"><text class="lb" x="1606.6" y="2145.5">KF908851/HAdV-B55/CHN/TJ-2013-90/2013</text></g>
<g id="D25"><text class="lb" x="1606.6" y="2174.7">MN654393/HAdV-B55/Japan/WPAFB415/2012</text></g>
<g id="D26"><text class="lb" x="1606.6" y="2203.8">JX123029/HAdV-B55/CHN/CQ-2903/2012</text></g>
<g id="D27"><text class="lb" x="1606.6" y="2232.9">KP896483/HAdV-B55/CHN/Liaoning/LS01/2013</text></g>
<g id="D28"><text class="lb" x="1606.6" y="2262.1">FJ841907/HAdV-B11a/South-Dakota/6380/1997</text></g>
<g id="D29"><text class="lb" x="1606.6" y="2291.2">KP896478/HAdV-B55/CHN/Hebei/BD01/2012</text></g>
<g id="D30"><text class="lb" x="1606.6" y="2320.4">KY002685/HAdV-B55/CHN/Yunnan/KM04/2016</text></g>
<g id="D31"><text class="lb" x="1606.6" y="2349.5">KP279748/HAdV-B55/CHN/AQ-1/2012</text></g>
<g id="D32"><text class="lb" x="1606.6" y="2378.6">FJ841914/HAdV-B11a/Taiwan/2474/2001</text></g>
<g id="D33"><circle cx="1649" cy="2401.3" r="8.5" fill="#a01c14"/><text class="lb" x="1664.5" y="2407.8">KP896484/HAdV-B55/CHN/Tianjin/TJ01/2013</text></g>
<g id="D34"><text class="lb" x="1673" y="2436.9">AY803294/HAdV-B14/Netherlands/de Wit/1955</text></g>
<g id="D35"><text class="lb" x="1673" y="2466.1">JX892927/HAdV-B14/CHN/CHN 2012/2012</text></g>
<g id="D36"><text class="lb" x="1590" y="2495.2">KY002683/HAdV-B55/CHN/Tibet/LS89/2016</text></g>
<g id="D37"><text class="lb" x="1590" y="2524.3">MN654392/HAdV-B55/USA/CDC97026382/1997</text></g>
<g id="D38"><text class="lb" x="1590" y="2553.5">KX494979/HAdV-B55/S.Korea/AFMC-16-0011/2016</text></g>
<g id="D39"><text class="lb" x="1590" y="2582.6">FJ841913/HAdV-B11a/Taiwan/760/2002</text></g>
<g id="D40"><circle cx="1609" cy="2605.3" r="8.5" fill="#a01c14"/><text class="lb" x="1624.6" y="2611.8">MN654395/HAdV-B11/14/Spain/273/1969</text></g>
<g id="D41"><text class="lb" x="1600" y="2640.9">MN654394/HAdV-B55/USA/CADOH VRDL 76-0669/1976</text></g>
<g id="D42"><text class="lb" x="1653" y="2670">AF532578/HAdV-B11/Sweden/Slobitski/2002</text></g>
<g id="D43"><text class="lb" x="1653" y="2699.2">AY598970/HAdV-B11p/Netherlands/strain 11p/2004</text></g>
</g>
<g id="D-scale">
<path class="trc" d="M1220.5,2748.5H1335M1220.5,2742V2755M1335,2742V2755"/>
<text class="bsm" x="1276" y="2772">0.01</text>
</g>
</g>
</svg>
